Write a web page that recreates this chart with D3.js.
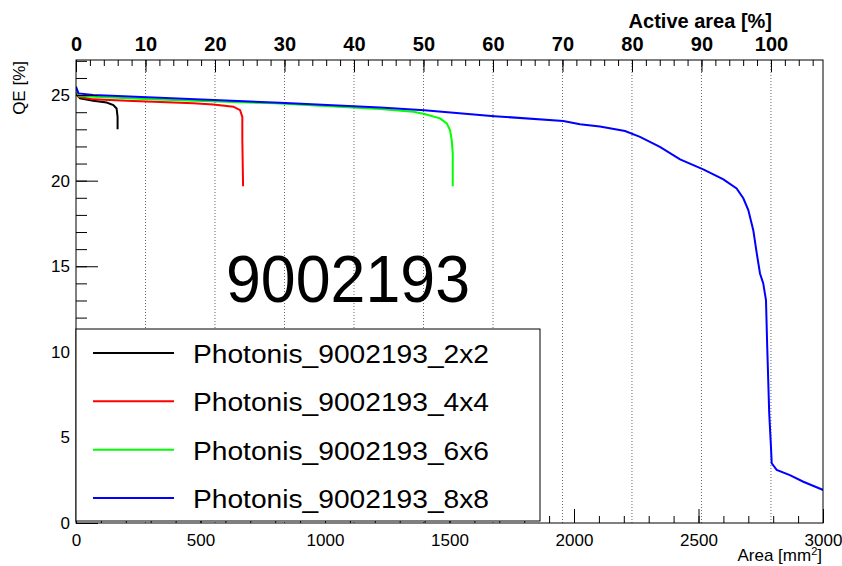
<!DOCTYPE html>
<html>
<head>
<meta charset="utf-8">
<script src="https://cdn.jsdelivr.net/npm/d3@7"></script>
<style>
  body { margin: 0; background: #fff; }
  svg { display: block; font-family: "Liberation Sans", Arial, sans-serif; }
</style>
</head>
<body>
<svg id="chart" width="842" height="566"></svg>
<script>
// QE versus accumulated area, one curve per pixelation
const seriesNames = ["Photonis_9002193_2x2", "Photonis_9002193_4x4", "Photonis_9002193_6x6", "Photonis_9002193_8x8"];
const seriesColors = ["#000000", "#ff0000", "#00ff00", "#0000ff"];

// [area mm2, QE %]
const qe2x2 = [[0, 25.1], [16, 24.81], [69, 24.67], [123, 24.57], [150, 24.42], [163, 24.22], [167, 23.73], [167, 23.0]];
const qe4x4 = [[0, 25.2], [10, 24.9], [69, 24.75], [204, 24.67], [337, 24.59], [471, 24.52], [551, 24.45], [632, 24.32],
  [659, 24.12], [668, 23.73], [668, 22.37], [671, 19.68]];
const qe6x6 = [[0, 25.3], [12, 24.95], [300, 24.75], [800, 24.52], [1221, 24.18], [1355, 24.03], [1399, 23.89],
  [1462, 23.64], [1489, 23.35], [1502, 22.96], [1509, 22.37], [1513, 21.6], [1513, 19.68]];
const qe8x8 = [[0, 25.5], [10, 25.1], [69, 25.0], [819, 24.55], [1221, 24.28], [1399, 24.12], [1680, 23.77],
  [1957, 23.48], [2024, 23.3], [2104, 23.16], [2205, 22.9], [2265, 22.56], [2345, 21.98], [2426, 21.24],
  [2519, 20.66], [2600, 20.08], [2653, 19.55], [2680, 18.97], [2700, 18.28], [2720, 17.11], [2734, 15.75],
  [2747, 14.58], [2760, 14.0], [2771, 13.03], [2776, 10.3], [2784, 6.41], [2791, 4.46], [2794, 3.49],
  [2814, 3.1], [2867, 2.8], [2921, 2.41], [3001, 1.93]];
const allSeries = [qe2x2, qe4x4, qe6x6, qe8x8];

const fullActiveArea = 2791; // mm2 that equals 100 % on the top axis
const areaDomain = [0, 3000];
const qeDomain = [0, 27.05];
const areaTicks = [0, 500, 1000, 1500, 2000, 2500, 3000];
const qeTicks = [0, 5, 10, 15, 20, 25];
const activeTicks = [0, 10, 20, 30, 40, 50, 60, 70, 80, 90, 100];
const label = "9002193";

const svg = d3.select("#chart");
const W = 842, H = 566;
const pad = { left: 76, right: 19, top: 60, bottom: 43 };
const innerW = W - pad.left - pad.right;
const innerH = H - pad.top - pad.bottom;

const x = d3.scaleLinear().domain(areaDomain).range([0, innerW]);
const y = d3.scaleLinear().domain(qeDomain).range([innerH, 0]);
const xTop = d3.scaleLinear()
  .domain([0, areaDomain[1] / fullActiveArea * 100])
  .range([0, innerW]);

const g = svg.append("g").attr("transform", `translate(${pad.left},${pad.top})`);

// Dotted grid at the active-area ticks
g.append("g")
  .selectAll("line")
  .data(activeTicks.filter((d) => d > 0))
  .join("line")
  .attr("x1", (d) => xTop(d)).attr("x2", (d) => xTop(d))
  .attr("y1", 0).attr("y2", innerH)
  .attr("stroke", "#666").attr("stroke-width", 1)
  .attr("stroke-dasharray", "1,2");

// Curves
svg.append("defs").append("clipPath").attr("id", "frame-clip")
  .append("rect").attr("width", innerW).attr("height", innerH);

const line = d3.line().x((d) => x(d[0])).y((d) => y(d[1]));
g.append("g")
  .attr("clip-path", "url(#frame-clip)")
  .attr("fill", "none")
  .attr("stroke-width", 2)
  .selectAll("path")
  .data(allSeries)
  .join("path")
  .attr("d", (d) => line(d))
  .attr("stroke", (d, i) => seriesColors[i]);

// Bottom axis: ticks pointing up, minor every 100
const gx = g.append("g").attr("transform", `translate(0,${innerH})`);
gx.call(d3.axisBottom(x).tickValues(d3.range(0, 3001, 100)).tickSize(-7).tickFormat(""));
gx.call((a) => a.select(".domain").remove());
g.append("g").attr("transform", `translate(0,${innerH})`)
  .call(d3.axisBottom(x).tickValues(areaTicks).tickSize(-14).tickFormat(d3.format("d")))
  .call((a) => a.select(".domain").remove())
  .call((a) => a.selectAll("text").attr("y", 11).attr("font-size", 17).attr("fill", "#000"));

// Left axis: ticks pointing right, minor every 1
g.append("g")
  .call(d3.axisLeft(y).tickValues(d3.range(0, 28, 1)).tickSize(-11).tickFormat(""))
  .call((a) => a.select(".domain").remove());
g.append("g")
  .call(d3.axisLeft(y).tickValues(qeTicks).tickSize(-22).tickFormat(d3.format("d")))
  .call((a) => a.select(".domain").remove())
  .call((a) => a.selectAll("text").attr("x", -6).attr("font-size", 17).attr("fill", "#000"));

// Top axis: active area, ticks pointing down
g.append("g")
  .call(d3.axisTop(xTop).tickValues(d3.range(0, 107, 2)).tickSize(-6).tickFormat(""))
  .call((a) => a.select(".domain").remove());
g.append("g")
  .call(d3.axisTop(xTop).tickValues(activeTicks).tickSize(-12).tickFormat(d3.format("d")))
  .call((a) => a.select(".domain").remove())
  .call((a) => a.selectAll("text").attr("y", -9).attr("font-size", 20)
    .attr("font-weight", "bold").attr("fill", "#000"));

g.selectAll(".tick line").attr("stroke", "#000");

// Frame
g.append("rect").attr("width", innerW).attr("height", innerH)
  .attr("fill", "none").attr("stroke", "#000").attr("stroke-width", 1);

// Titles
svg.append("text").attr("x", 772).attr("y", 28).attr("text-anchor", "end")
  .attr("font-size", 20).attr("font-weight", "bold").text("Active area [%]");

const xt = svg.append("text").attr("x", 822).attr("y", 561).attr("text-anchor", "end")
  .attr("font-size", 17);
xt.append("tspan").text("Area [mm");
xt.append("tspan").attr("font-size", 11).attr("dy", -6).text("2");
xt.append("tspan").attr("dy", 6).text("]");

svg.append("text")
  .attr("transform", "translate(25,61) rotate(-90)")
  .attr("text-anchor", "end").attr("font-size", 17).text("QE [%]");

// Big label
svg.append("text").attr("x", 348).attr("y", 302).attr("text-anchor", "middle")
  .attr("font-size", 66).attr("textLength", 244).attr("lengthAdjust", "spacingAndGlyphs")
  .text(label);

// Legend
const legend = svg.append("g");
legend.append("rect").attr("x", 76).attr("y", 329).attr("width", 464).attr("height", 192)
  .attr("fill", "#fff").attr("stroke", "#000").attr("stroke-width", 1);
const rowY = d3.scalePoint().domain(seriesNames).range([353, 498]);
const rows = legend.selectAll("g.row").data(seriesNames).join("g").attr("class", "row");
rows.append("line")
  .attr("x1", 93).attr("x2", 174)
  .attr("y1", (d) => rowY(d)).attr("y2", (d) => rowY(d))
  .attr("stroke", (d, i) => seriesColors[i]).attr("stroke-width", 2);
rows.append("text")
  .attr("x", 193).attr("y", (d) => rowY(d) + 10)
  .attr("font-size", 26).attr("textLength", 296).attr("lengthAdjust", "spacingAndGlyphs")
  .text((d) => d);
</script>
</body>
</html>
